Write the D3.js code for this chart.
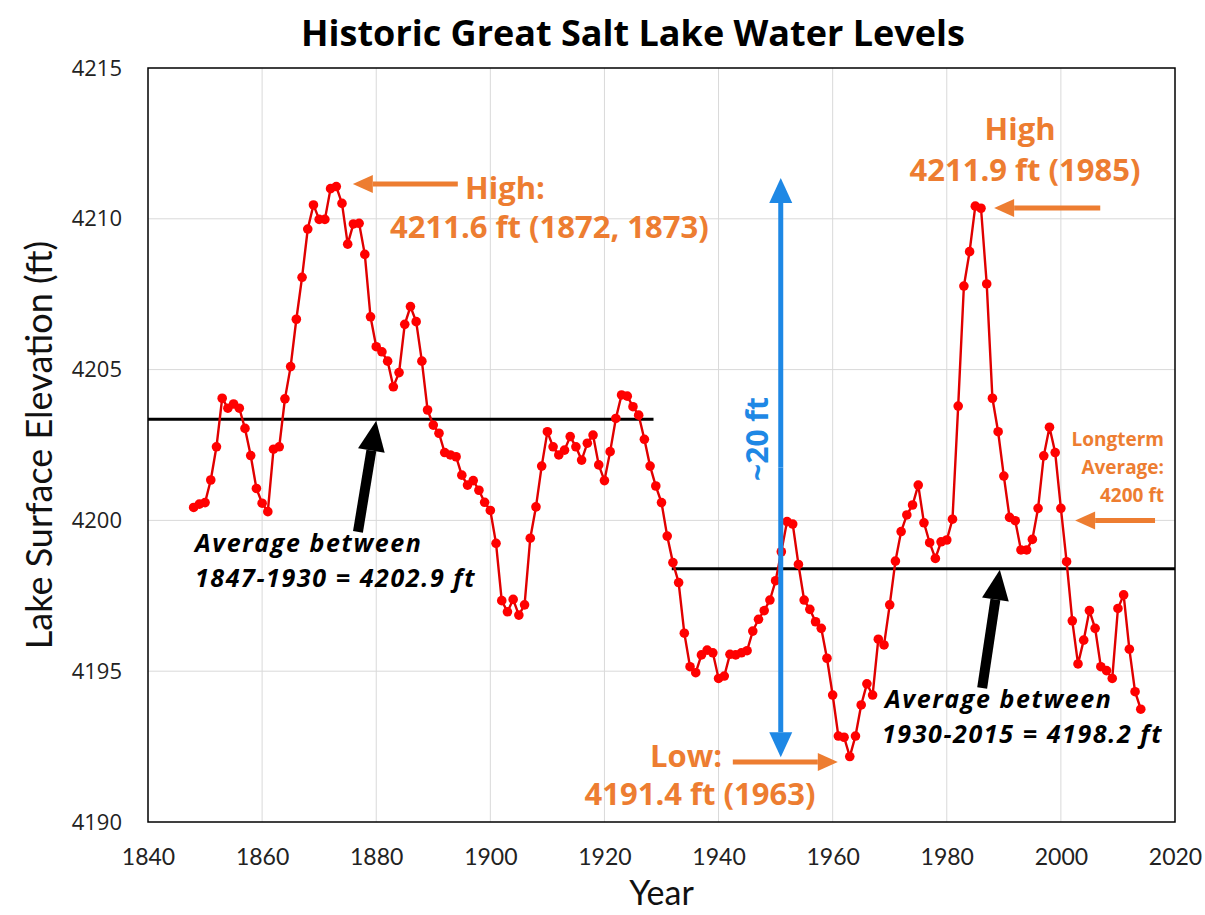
<!DOCTYPE html>
<html>
<head>
<meta charset="utf-8">
<script src="https://cdn.jsdelivr.net/npm/d3@7"></script>
<style>
  body { margin: 0; background: #fff; }
  svg { display: block; }
  .grid line { stroke: #d9d9d9; stroke-width: 1; }
  .ytick text { font-family: "Open Sans", sans-serif; font-size: 22px; fill: #222; }
  .xtick text { font-family: Lato, sans-serif; font-size: 23px; fill: #222; }
  .axis-title { font-family: Lato, sans-serif; font-size: 36px; fill: #111; }
  .title { font-family: "Open Sans", sans-serif; font-weight: 700; font-size: 36px; fill: #000; }
  .note-orange { font-family: "Open Sans", sans-serif; font-weight: 700; fill: #ed7d31; }
  .note-black { font-family: "Open Sans", sans-serif; font-weight: 700; font-style: italic; fill: #000; letter-spacing: 1.6px; }
</style>
</head>
<body>
<div id="chart"></div>
<script>
// yearly lake level readings
const firstYear = 1848;
const levels = [
  4200.43, 4200.54, 4200.59, 4201.34, 4202.44, 4204.05, 4203.72, 4203.86, 4203.72, 4203.05,
  4202.15, 4201.06, 4200.57, 4200.29, 4202.36, 4202.44, 4204.03, 4205.10, 4206.67, 4208.06,
  4209.66, 4210.46, 4209.98, 4209.98, 4211.00, 4211.07, 4210.51, 4209.16, 4209.83, 4209.85,
  4208.82, 4206.75, 4205.76, 4205.59, 4205.28, 4204.43, 4204.90, 4206.50, 4207.09, 4206.59,
  4205.28, 4203.66, 4203.16, 4202.89, 4202.25, 4202.17, 4202.11, 4201.50, 4201.17, 4201.32,
  4201.00, 4200.60, 4200.33, 4199.24, 4197.34, 4196.97, 4197.38, 4196.86, 4197.20, 4199.41,
  4200.45, 4201.80, 4202.94, 4202.44, 4202.17, 4202.33, 4202.78, 4202.44, 4202.00, 4202.56,
  4202.83, 4201.84, 4201.32, 4202.28, 4203.38, 4204.16, 4204.12, 4203.77, 4203.49, 4202.69,
  4201.80, 4201.14, 4200.59, 4199.48, 4198.60, 4197.94, 4196.26, 4195.15, 4194.95, 4195.54,
  4195.70, 4195.61, 4194.76, 4194.84, 4195.56, 4195.54, 4195.61, 4195.68, 4196.33, 4196.72,
  4197.01, 4197.36, 4198.00, 4198.96, 4199.96, 4199.88, 4198.54, 4197.36, 4197.05, 4196.64,
  4196.42, 4195.43, 4194.21, 4192.85, 4192.81, 4192.17, 4192.85, 4193.88, 4194.58, 4194.21,
  4196.06, 4195.87, 4197.20, 4198.65, 4199.63, 4200.18, 4200.51, 4201.17, 4199.92, 4199.26,
  4198.74, 4199.29, 4199.35, 4200.04, 4203.79, 4207.77, 4208.91, 4210.42, 4210.35, 4207.84,
  4204.05, 4202.94, 4201.47, 4200.10, 4199.99, 4199.02, 4199.02, 4199.37, 4200.40, 4202.14,
  4203.09, 4202.25, 4200.40, 4198.63, 4196.67, 4195.24, 4196.03, 4197.01, 4196.42, 4195.15,
  4195.02, 4194.76, 4197.08, 4197.53, 4195.73, 4194.32, 4193.74
];

const xTicks = [1840, 1860, 1880, 1900, 1920, 1940, 1960, 1980, 2000, 2020];
const yTicks = [4190, 4195, 4200, 4205, 4210, 4215];

// the two period averages as drawn (start year, end year, level)
const avgStart = [1840, 1931.8];
const avgEnd = [1928.6, 2020];
const avgLevel = [4203.35, 4198.4];

// range arrow (~20 ft)
const rangeYear = 1950.9;
const rangeLow = 4192.15;
const rangeHigh = 4211.35;

const W = 1205, H = 915;
const margin = {top: 68, right: 30, bottom: 93, left: 148};

const data = levels.map((v, i) => ({year: firstYear + i, level: v}));

const svg = d3.select("#chart").append("svg")
    .attr("width", W)
    .attr("height", H);

const x = d3.scaleLinear().domain([1840, 2020]).range([margin.left, W - margin.right]);
const y = d3.scaleLinear().domain([4190, 4215]).range([H - margin.bottom, margin.top]);

// gridlines
const grid = svg.append("g").attr("class", "grid");
grid.selectAll(".gx").data(xTicks.slice(1, -1)).join("line")
    .attr("x1", d => x(d)).attr("x2", d => x(d))
    .attr("y1", y(4190)).attr("y2", y(4215));
grid.selectAll(".gy").data(yTicks.slice(1, -1)).join("line")
    .attr("x1", x(1840)).attr("x2", x(2020))
    .attr("y1", d => y(d)).attr("y2", d => y(d));

// axes (labels only, frame drawn separately)
const yAxis = svg.append("g").attr("class", "ytick")
    .attr("transform", `translate(${x(1840)},0)`)
    .call(d3.axisLeft(y).tickValues(yTicks).tickSize(0).tickPadding(26).tickFormat(d3.format("d")));
yAxis.select(".domain").remove();

const xAxis = svg.append("g").attr("class", "xtick")
    .attr("transform", `translate(0,${y(4190)})`)
    .call(d3.axisBottom(x).tickValues(xTicks).tickSize(0).tickPadding(27).tickFormat(d3.format("d")));
xAxis.select(".domain").remove();

svg.append("rect")
    .attr("x", x(1840)).attr("y", y(4215))
    .attr("width", x(2020) - x(1840)).attr("height", y(4190) - y(4215))
    .attr("fill", "none").attr("stroke", "#000").attr("stroke-width", 1.5);

// average lines
svg.append("g").selectAll("line").data(avgLevel).join("line")
    .attr("x1", (d, i) => x(avgStart[i])).attr("x2", (d, i) => x(avgEnd[i]))
    .attr("y1", d => y(d)).attr("y2", d => y(d))
    .attr("stroke", "#000").attr("stroke-width", 3);

// lake level series
const line = d3.line().x(d => x(d.year)).y(d => y(d.level));
svg.append("path").datum(data)
    .attr("d", line)
    .attr("fill", "none").attr("stroke", "#e00000").attr("stroke-width", 2.4);
svg.append("g").selectAll("circle").data(data).join("circle")
    .attr("cx", d => x(d.year)).attr("cy", d => y(d.level))
    .attr("r", 4.8).attr("fill", "#ff0000");

// arrow helper: shaft + filled triangle head at the tip
function arrow(x1, y1, x2, y2, color, w, headLen, headW) {
    const ang = Math.atan2(y2 - y1, x2 - x1);
    const bx = x2 - headLen * Math.cos(ang), by = y2 - headLen * Math.sin(ang);
    const px = -Math.sin(ang) * headW / 2, py = Math.cos(ang) * headW / 2;
    const g = svg.append("g");
    g.append("line").attr("x1", x1).attr("y1", y1).attr("x2", bx).attr("y2", by)
        .attr("stroke", color).attr("stroke-width", w);
    g.append("path")
        .attr("d", `M${x2},${y2}L${bx + px},${by + py}L${bx - px},${by - py}Z`)
        .attr("fill", color);
    return g;
}

// blue double arrow
const blue = "#1e88e5";
const mid = (y(rangeLow) + y(rangeHigh)) / 2;
arrow(x(rangeYear), mid, x(rangeYear), y(rangeHigh), blue, 5, 25, 23);
arrow(x(rangeYear), mid, x(rangeYear), y(rangeLow), blue, 5, 25, 23);
svg.append("text")
    .attr("transform", `translate(${x(rangeYear) - 13},${y(4202.7)}) rotate(-90)`)
    .attr("text-anchor", "middle")
    .attr("font-family", "Open Sans, sans-serif").attr("font-weight", 700)
    .attr("font-size", 30).attr("fill", blue)
    .text("~20 ft");

// orange notes
const orange = "#ed7d31";
arrow(x(1894.3), y(4211.15), x(1875.9), y(4211.15), orange, 5, 20, 18);
arrow(x(2006.9), y(4210.36), x(1988.3), y(4210.36), orange, 5, 20, 18);
arrow(x(2016.5), y(4200.0), x(2002.5), y(4200.0), orange, 5, 20, 18);
arrow(x(1942.5), y(4191.99), x(1960.9), y(4191.99), orange, 5, 20, 18);

function note(txt, px, py, anchor, size, cls) {
    svg.append("text").attr("class", cls)
        .attr("x", px).attr("y", py)
        .attr("text-anchor", anchor)
        .attr("font-size", size)
        .text(txt);
}
note("High:", 465, 199, "start", 31, "note-orange");
note("4211.6 ft (1872, 1873)", 390, 238, "start", 31, "note-orange");
note("High", 1020, 140, "middle", 31, "note-orange");
note("4211.9 ft (1985)", 1025, 181, "middle", 31, "note-orange");
note("Longterm", 1164, 446, "end", 19, "note-orange");
note("Average:", 1164, 474, "end", 19, "note-orange");
note("4200 ft", 1164, 502, "end", 19, "note-orange");
note("Low:", 650, 767, "start", 31, "note-orange");
note("4191.4 ft (1963)", 700, 805, "middle", 31, "note-orange");

// black notes
arrow(x(1876.8), y(4199.62), x(1880.0), y(4203.3), "#000", 10, 30, 27);
arrow(x(1986.2), y(4194.44), x(1989.3), y(4198.36), "#000", 10, 30, 27);
note("Average between", 195, 552, "start", 25, "note-black");
note("1847-1930 = 4202.9 ft", 195, 587, "start", 25, "note-black");
note("Average between", 885, 708, "start", 25, "note-black");
note("1930-2015 = 4198.2 ft", 882, 743, "start", 25, "note-black");

// titles
svg.append("text").attr("class", "title")
    .attr("x", 633).attr("y", 46).attr("text-anchor", "middle")
    .text("Historic Great Salt Lake Water Levels");
svg.append("text").attr("class", "axis-title")
    .attr("transform", `translate(52,${(y(4190) + y(4215)) / 2}) rotate(-90)`)
    .attr("text-anchor", "middle")
    .text("Lake Surface Elevation (ft)");
svg.append("text").attr("class", "axis-title")
    .attr("x", (x(1840) + x(2020)) / 2).attr("y", 905)
    .attr("text-anchor", "middle")
    .style("font-size", "34px")
    .text("Year");
</script>
</body>
</html>
